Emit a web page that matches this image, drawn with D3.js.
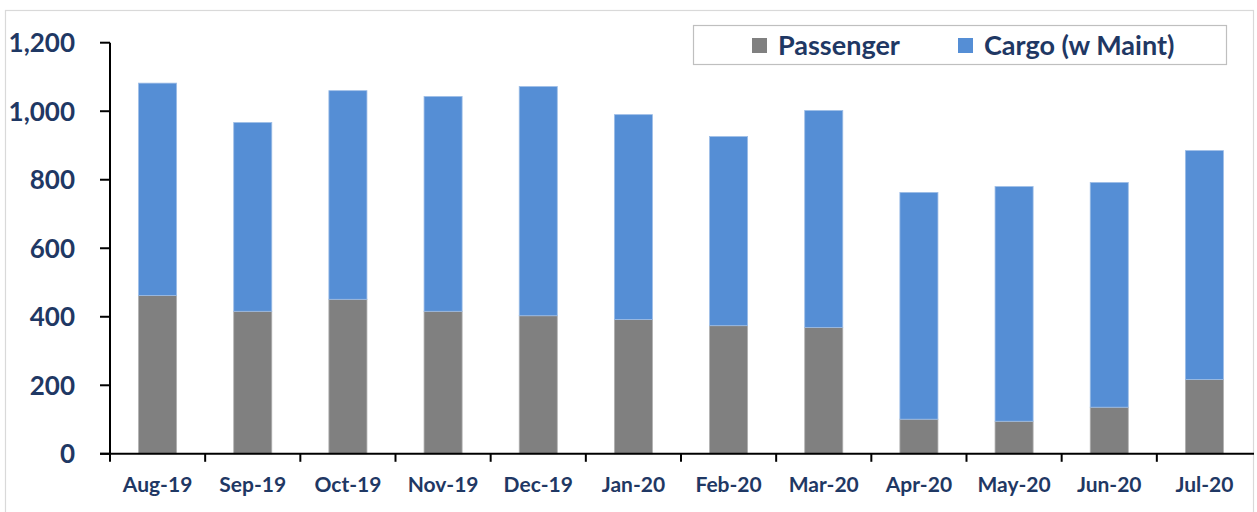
<!DOCTYPE html>
<html><head><meta charset="utf-8">
<script src="https://cdn.jsdelivr.net/npm/d3@7"></script>
<style>
html,body{margin:0;padding:0;background:#fff;}
svg{display:block;}
text{font-family:Lato,"Open Sans",sans-serif;font-weight:700;fill:#1f3864;}
</style></head>
<body><svg id="c" width="1257" height="512"></svg>
<script>
const categories = ["Aug-19","Sep-19","Oct-19","Nov-19","Dec-19","Jan-20","Feb-20","Mar-20","Apr-20","May-20","Jun-20","Jul-20"];
const passenger = [462,416,451,416,403,392,374,369,101,95,136,217];
const cargo = [620,551,609,627,669,598,552,633,662,685,656,668];
const seriesNames = ["Passenger","Cargo (w Maint)"];
const seriesColors = ["#808080","#558ed5"];
const yTicks = [0,200,400,600,800,1000,1200];

const svg = d3.select("#c");
const left = 110, right = 1252, y0 = 453.8, yTop = 42.7;

// outer frame
svg.append("rect").attr("x",5.5).attr("y",10.5).attr("width",1248).attr("height",520)
  .attr("fill","none").attr("stroke","#d9d9d9").attr("stroke-width",1.2);

const x = d3.scaleBand().domain(categories).range([left,right]).paddingInner(0.6).paddingOuter(0.3);
const y = d3.scaleLinear().domain([0,1200]).range([y0,yTop]);

const data = categories.map((c,i)=>({cat:c, Passenger:passenger[i], "Cargo (w Maint)":cargo[i]}));
const stack = d3.stack().keys(seriesNames)(data);

const g = svg.append("g");
stack.forEach((s,si)=>{
  g.selectAll(null).data(s).enter().append("rect")
    .attr("x",d=>x(d.data.cat))
    .attr("width",x.bandwidth())
    .attr("y",d=>y(d[1]))
    .attr("height",d=>y(d[0])-y(d[1]))
    .attr("fill",seriesColors[si])
    .attr("stroke",si===0?"#b0b0b0":"#9dbde6")
    .attr("stroke-width",0.8);
});

// y axis
const step = x.step();
svg.append("line").attr("x1",left).attr("x2",left).attr("y1",y(1200)).attr("y2",y0+1)
  .attr("stroke","#000").attr("stroke-width",2);
yTicks.forEach(t=>{
  svg.append("line").attr("x1",left-10).attr("x2",left).attr("y1",y(t)).attr("y2",y(t))
    .attr("stroke","#000").attr("stroke-width",2);
  svg.append("text").attr("x",75).attr("y",y(t)).attr("dy","0.36em")
    .attr("text-anchor","end").attr("font-size",26).text(d3.format(",")(t));
});

// x axis
svg.append("line").attr("x1",left-10).attr("x2",1254).attr("y1",y0).attr("y2",y0)
  .attr("stroke","#000").attr("stroke-width",2);
categories.forEach((c,i)=>{
  const cx = x(c)+x.bandwidth()/2;
  const bx = cx - step/2;
  svg.append("line").attr("x1",bx).attr("x2",bx).attr("y1",y0).attr("y2",y0+8)
    .attr("stroke","#000").attr("stroke-width",2);
  svg.append("text").attr("x",cx).attr("y",492).attr("text-anchor","middle")
    .attr("font-size",21).text(c);
});

// legend
const lg = svg.append("g");
lg.append("rect").attr("x",693.5).attr("y",25.5).attr("width",533).attr("height",39)
  .attr("fill","#fff").attr("stroke","#bfbfbf").attr("stroke-width",1.2);
const legX = [752, 958];
seriesNames.forEach((n,i)=>{
  lg.append("rect").attr("x",legX[i]).attr("y",38).attr("width",15).attr("height",15).attr("fill",seriesColors[i]);
  lg.append("text").attr("x",legX[i]+26).attr("y",55).attr("font-size",27).text(n);
});
</script></body></html>
